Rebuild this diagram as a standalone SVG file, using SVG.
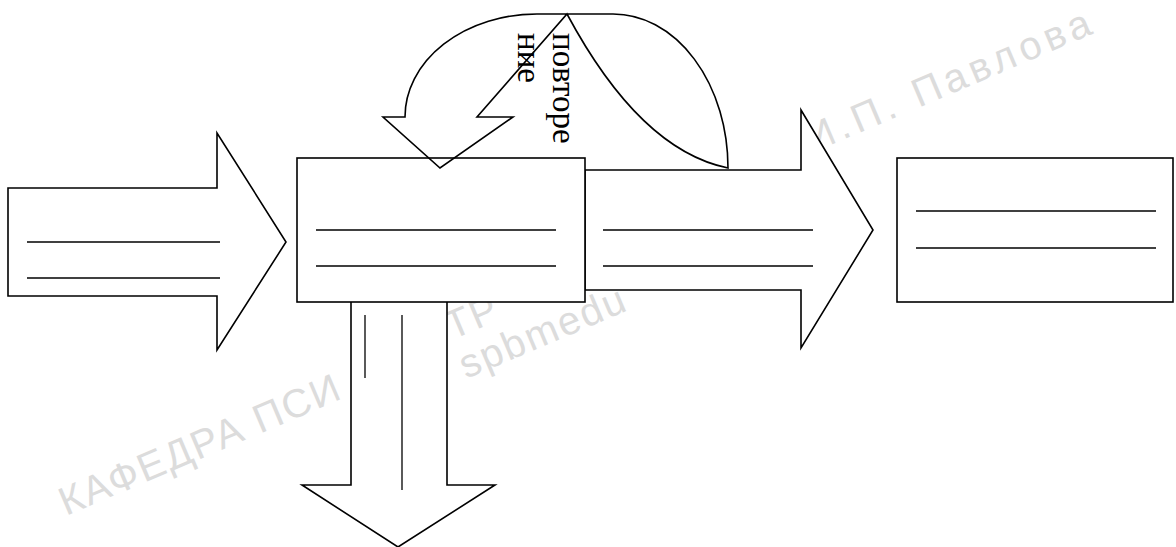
<svg xmlns="http://www.w3.org/2000/svg" width="1176" height="547" viewBox="0 0 1176 547">
<style>
.shape{fill:#ffffff;stroke:#000000;stroke-width:1.6;stroke-linejoin:miter}
.open{fill:none;stroke:#000000;stroke-width:1.6;stroke-linejoin:miter}
.rule{stroke:#000000;stroke-width:1.3}
.lbl{font-family:"Liberation Serif","Times New Roman",serif;font-size:33px;fill:#000000}
.wm{font-family:"Liberation Sans",Arial,sans-serif;font-size:40px;fill:#dcdcdc;letter-spacing:2px}
</style>
<rect width="1176" height="547" fill="#ffffff"/>
<g id="watermark">
<text class="wm" transform="translate(66,516) rotate(-23)">КАФЕДРА ПСИ</text>
<text class="wm" transform="translate(452,340) rotate(-23)">ТР</text>
<text class="wm" transform="translate(466,379) rotate(-23)">spbmedu</text>
<text class="wm" style="letter-spacing:5px" transform="translate(812,153) rotate(-23)">И.П. Павлова</text>
</g>
<g id="connectors">
<g id="arrow-right">
<polygon class="shape" points="585,170 801,170 801,110 873,230 801,348 801,290 585,290"/>
<line class="rule" x1="603" y1="230" x2="813" y2="230"/>
<line class="rule" x1="603" y1="266" x2="813" y2="266"/>
</g>
<g id="arrow-left">
<polygon class="shape" points="8,188 217,188 217,133 286,242 217,350 217,296 8,296"/>
<line class="rule" x1="27" y1="242" x2="220" y2="242"/>
<line class="rule" x1="27" y1="278" x2="220" y2="278"/>
</g>
<g id="arrow-down">
<polygon class="shape" points="351,300 447,300 447,485 495,485 398,547 302,485 351,485"/>
<line class="rule" x1="365" y1="315" x2="365" y2="378"/>
<line class="rule" x1="402" y1="315" x2="402" y2="490"/>
</g>
</g>
<g id="node-center">
<rect class="shape" x="297" y="158" width="288" height="144"/>
<line class="rule" x1="316" y1="230" x2="556" y2="230"/>
<line class="rule" x1="316" y1="266" x2="556" y2="266"/>
</g>
<g id="node-right">
<rect class="shape" x="897" y="158" width="276" height="144"/>
<line class="rule" x1="916" y1="211" x2="1156" y2="211"/>
<line class="rule" x1="916" y1="248" x2="1156" y2="248"/>
</g>
<g id="arrow-repeat">
<path class="open" d="M728,168 A115,154 0 0 0 613,14 L537,14 A132,103 0 0 0 405,117 L383,117 L440,168 L513,117 L477,117 L567,14 Q640,150 728,168 Z"/>
<text class="lbl" transform="translate(553,33) rotate(90)">повторе</text>
<text class="lbl" transform="translate(518,33) rotate(90)">ние</text>
</g>
</svg>
